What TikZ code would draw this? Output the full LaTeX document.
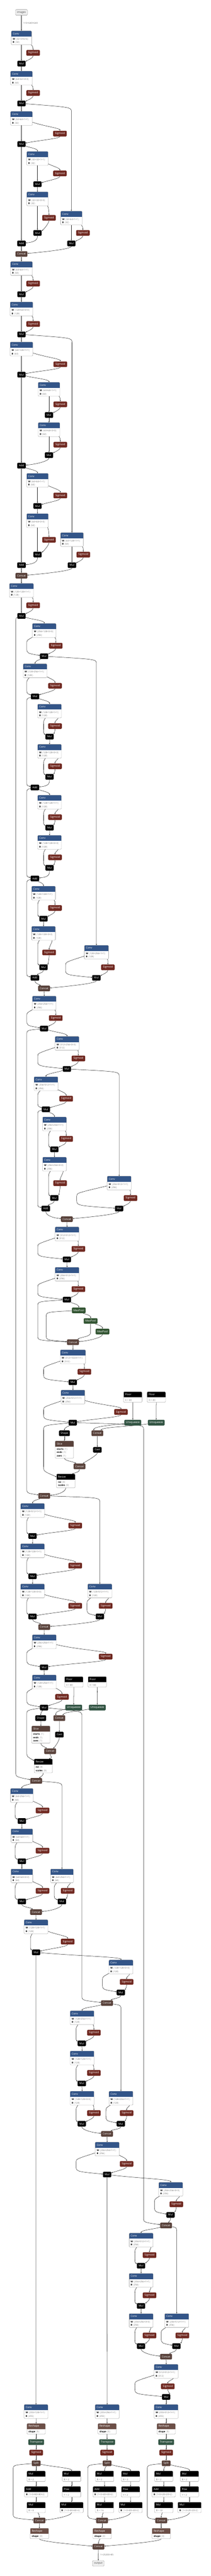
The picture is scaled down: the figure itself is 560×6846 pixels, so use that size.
\documentclass[tikz,border=0pt]{standalone}
\usepackage{fontspec}
\setmainfont{Open Sans}
\usetikzlibrary{arrows.meta,calc}
\pgfdeclarelayer{back}\pgfdeclarelayer{bg}
\pgfsetlayers{back,bg,main}
\definecolor{convblue}{RGB}{51,85,136}
\definecolor{sigred}{RGB}{112,41,33}
\definecolor{tensorc}{RGB}{89,66,59}
\definecolor{shapec}{RGB}{108,79,71}
\definecolor{poolc}{RGB}{51,85,51}
\definecolor{transc}{RGB}{51,85,68}
\definecolor{valgray}{RGB}{110,110,110}
\definecolor{bordc}{RGB}{140,140,140}
\newcommand\hfont{\fontsize{7}{8}\selectfont}
\newcommand\afont{\fontsize{6.1}{7}\selectfont}
\newcommand\val[1]{\textcolor{valgray}{$\langle$#1$\rangle$}}
\newcommand\gv[1]{\textcolor{valgray}{#1}}
\tikzset{
 edg/.style={draw=black!85, line width=0.7pt, -{Stealth[length=3.4pt,width=2.8pt]}},
 opn/.style={rounded corners=2pt, minimum height=15pt, inner sep=0pt, text=white, font=\hfont},
 ionode/.style={rounded corners=2pt, minimum height=15pt, inner sep=0pt, fill=black!7, draw=black!45, line width=0.5pt, text=black!70, font=\hfont},
 lbl/.style={font=\afont, text=valgray, inner sep=0pt},
}
\newcommand\onbg[1]{\begin{pgfonlayer}{bg}#1\end{pgfonlayer}}
\newcommand\Nop[6]{\node[opn, fill=#5, minimum width=#4pt] (#1) at (#2,#3) {#6};}
\newcommand\Nh[8]{%
  \pgfmathsetmacro\hL{#2-#4/2}\pgfmathsetmacro\hR{#2+#4/2}%
  \pgfmathsetmacro\hB{#3+19+9*#7}\pgfmathsetmacro\hH{19+9*#7}\pgfmathsetmacro\hM{#3+(19+9*#7)/2}%
  \begin{scope}
    \clip[rounded corners=2pt] (\hL,#3) rectangle (\hR,\hB);
    \fill[white] (\hL,#3) rectangle (\hR,\hB);
    \fill[#5] (\hL,#3) rectangle (\hR,{#3+15});
  \end{scope}
  \draw[bordc, line width=0.45pt, rounded corners=2pt] (\hL,#3) rectangle (\hR,\hB);
  \node[anchor=west, text=white, font=\hfont, inner sep=0pt] at ({\hL+4},{#3+7.5}) {#6};
  \foreach \rowtxt [count=\ri] in {#8} {\node[anchor=west, font=\afont, inner sep=0pt] at ({\hL+4},{#3+13.5+9*\ri}) {\rowtxt};}
  \node[inner sep=0pt, outer sep=0pt, minimum width=#4pt, minimum height=\hH pt] (#1) at (#2,\hM) {};}
\newcommand\Nconv[6]{%
  \Nh{c#1}{#2}{#3}{#4}{convblue}{Conv}{2}{{\textbf{W} \val{#5}},{\textbf{B} \val{#6}}}%
  \pgfmathsetmacro\tmpR{#2+#4/2}\xdef\cRr{\tmpR}%
  \pgfmathsetmacro\tmpB{#3+37}\xdef\cBb{\tmpB}}
\newcommand\Nsm[6]{%
  \Nop{s#1}{#2}{#3}{36}{sigred}{Sigmoid}%
  \Nop{m#1}{#4}{#5}{22}{black}{Mul}%
  \pgfmathsetmacro\pAx{0.6*\cRr+0.4*#2}%
  \pgfmathsetmacro\pBx{#4+11+0.3*(#2-#4-11)}%
  \begin{pgfonlayer}{bg}
  \draw[edg] (c#1) .. controls (\pAx,{\cBb+2}) and (#2,{#3-14.5}) .. (s#1);
  \draw[edg] (s#1) .. controls (#2,{#3+13.5}) and (\pBx,{#5-9}) .. (m#1);
  \ifdim #6pt=0pt
    \draw[edg] (#4,\cBb) -- (m#1);
  \else
    \draw[edg] (c#1) .. controls (#6,{\cBb+8}) .. (#6,{\cBb+16}) -- (#6,{#5-22}) .. controls (#6,{#5-8}) .. (m#1);
  \fi
  \end{pgfonlayer}}
\newcommand\ED[2]{\onbg{\draw[edg] (#1) .. controls ($(#1)!0.45!(#2.north)$) and ($(#2.north)+(0,-8)$) .. (#2);}}
\newcommand\EB[3]{\onbg{\draw[edg] (#1) .. controls ($(#1.south)+(0,7)$) and ($(#2.north)+({1.8*(#3)},-5)$) .. ($(#2.north)+(#3,0)$);}}
\newcommand\EHR[2]{\onbg{\draw[edg] (#1) .. controls ($(#1.south)+(0,8)$) and ($(#2.east)+(28,-4)$) .. ($(#2.east)+(0,-1.5)$);}}
\newcommand\EHL[2]{\onbg{\draw[edg] (#1) .. controls ($(#1.south)+(0,8)$) and ($(#2.west)+(-28,-4)$) .. ($(#2.west)+(0,-1.5)$);}}
\newcommand\BL[5]{\onbg{\draw[edg] (#1) .. controls (#2,#3) .. (#2,{#3+12}) -- (#2,{#4-12}) .. controls (#2,#4) .. (#5);}}
\newcommand\Ndet[8]{%
  \Nh{rs#1}{#2}{6440.7}{49}{shapec}{Reshape}{1}{{\textbf{shape} \val{5}}}%
  \Nop{tr#1}{#2}{6490}{42}{transc}{Transpose}%
  \Nop{sg#1}{#2}{6518.2}{36}{sigred}{Sigmoid}%
  \Nop{sp#1}{#2}{6546.4}{23.3}{tensorc}{Split}%
  \Nh{ma#1}{#3}{6566.8}{49}{black}{Mul}{1}{{\gv{B = 2}}}%
  \Nh{mb#1}{#4}{6566.8}{49}{black}{Mul}{1}{{\gv{B = 2}}}%
  \Nh{ad#1}{#3}{6608}{62}{black}{Add}{1}{{\textbf{B} \val{#7}}}%
  \Nh{pw#1}{#4}{6608}{49}{black}{Pow}{1}{{\gv{Y = 2}}}%
  \Nh{mc#1}{#3}{6649.5}{49}{black}{Mul}{1}{{\gv{B = #8}}}%
  \Nh{md#1}{#4}{6649.5}{62}{black}{Mul}{1}{{\textbf{B} \val{#7}}}%
  \Nop{kd#1}{#5}{6698.4}{31.4}{tensorc}{Concat}%
  \Nh{re#1}{#5}{6719}{49}{shapec}{Reshape}{1}{{\textbf{shape} \val{3}}}%
  \ED{c#1}{rs#1}\ED{rs#1}{tr#1}\ED{tr#1}{sg#1}\ED{sg#1}{sp#1}%
  \ED{sp#1}{ma#1}\ED{sp#1}{mb#1}\ED{ma#1}{ad#1}\ED{ad#1}{mc#1}%
  \ED{mb#1}{pw#1}\ED{pw#1}{md#1}\ED{mc#1}{kd#1}\EHR{md#1}{kd#1}%
  \BL{sp#1}{#6}{6551}{6692}{kd#1}\ED{kd#1}{re#1}}
\begin{document}
\begin{tikzpicture}[x=1pt,y=-1pt]
\begin{pgfonlayer}{back}\fill[white] (0,0) rectangle (560,6846);\end{pgfonlayer}
\useasboundingbox (0,0) rectangle (560,6846);
\node[ionode, minimum width=32pt] (img) at (57,33) {images};
\node[lbl, anchor=west] at (61.5,61) {1×3×640×640};
% ---- backbone
\Nconv{1}{57}{82}{54}{32×3×6×6}{32}\Nsm{1}{88}{140.5}{57}{169}{0}
\Nconv{2}{57}{189}{58}{64×32×3×3}{64}\Nsm{2}{88}{247}{57}{275}{0}
\Nconv{3}{57}{296}{58}{32×64×1×1}{32}\Nsm{3}{159}{355}{57}{383}{0}
\Nconv{4}{99.5}{402.6}{57}{32×32×1×1}{32}\Nsm{4}{159}{461}{99.5}{489.5}{0}
\Nconv{5}{99.5}{510}{57}{32×32×3×3}{32}\Nsm{5}{130}{579}{99.5}{619}{0}
\Nconv{6}{189.5}{561}{57}{32×64×1×1}{32}\Nsm{6}{220}{619}{189.5}{647}{0}
\Nop{a1}{57}{647}{22.7}{black}{Add}
\Nop{k1}{57}{675}{31.4}{tensorc}{Concat}
\Nconv{7}{57}{695}{58}{64×64×1×1}{64}\Nsm{7}{88}{753.6}{57}{782}{0}
\Nconv{8}{57}{802.5}{60.5}{128×64×3×3}{128}\Nsm{8}{88}{861}{57}{888.7}{0}
\Nconv{9}{57}{909}{60.5}{64×128×1×1}{64}\Nsm{9}{160}{968}{57}{995.7}{0}
\Nconv{10}{130}{1016}{57.5}{64×64×1×1}{64}\Nsm{10}{160}{1074.5}{130}{1103}{0}
\Nconv{11}{130}{1123}{57.5}{64×64×3×3}{64}\Nsm{11}{160}{1181.7}{130}{1209.6}{0}
\Nop{a2}{57}{1237.6}{22.7}{black}{Add}
\Nconv{12}{99.5}{1258}{57.5}{64×64×1×1}{64}\Nsm{12}{160}{1316.8}{99.5}{1344.7}{0}
\Nconv{13}{99.5}{1365}{57.5}{64×64×3×3}{64}\Nsm{13}{130}{1434.6}{99.5}{1473.7}{0}
\Nop{a3}{57}{1502}{22.7}{black}{Add}
\Nconv{14}{191}{1415.5}{60.5}{64×128×1×1}{64}\Nsm{14}{221}{1474}{191}{1502}{0}
\Nop{k2}{57}{1530}{31.4}{tensorc}{Concat}
\Nconv{15}{57}{1550.6}{64}{128×128×1×1}{128}\Nsm{15}{88}{1608.7}{57}{1637}{0}
\Nconv{16}{117.5}{1657}{63}{256×128×3×3}{256}\Nsm{16}{148}{1716}{117}{1744}{71}
\Nconv{17}{93}{1764}{63}{128×256×1×1}{128}\Nsm{17}{146}{1822.6}{93}{1851}{71}
\Nconv{18}{131.5}{1871}{63}{128×128×1×1}{128}\Nsm{18}{146}{1929.7}{131.5}{1957.7}{115.7}
\Nconv{19}{131.5}{1978}{63}{128×128×3×3}{128}\Nsm{19}{146}{2036.5}{131.5}{2064.5}{115.7}
\Nop{a4}{92.5}{2092.8}{22.7}{black}{Add}
\Nconv{20}{131.5}{2113}{63}{128×128×1×1}{128}\Nsm{20}{146}{2171.7}{131.5}{2199.5}{115.7}
\Nconv{21}{131.5}{2219.8}{63}{128×128×3×3}{128}\Nsm{21}{146}{2278.5}{131.5}{2306.3}{115.7}
\Nop{a5}{92.5}{2334.6}{22.7}{black}{Add}
\Nconv{22}{115.5}{2355}{63}{128×128×1×1}{128}\Nsm{22}{146}{2413}{115.5}{2441.4}{100}
\Nconv{23}{115.5}{2461.7}{63}{128×128×3×3}{128}\Nsm{23}{130.4}{2531.3}{115.5}{2570.5}{100}
\Nop{a6}{92.5}{2598.7}{22.7}{black}{Add}
\Nconv{24}{256}{2512}{64}{128×256×1×1}{128}\Nsm{24}{286.4}{2570.8}{255.7}{2598.7}{174}
\Nop{k3}{117}{2627}{31.4}{tensorc}{Concat}
\Nconv{25}{117.5}{2647}{63}{256×256×1×1}{256}\Nsm{25}{148}{2705.5}{117}{2733.4}{71}
\Nconv{26}{178}{2754.3}{63.6}{512×256×3×3}{512}\Nsm{26}{208}{2813}{177.5}{2840.8}{100}
\Nconv{27}{122}{2861.5}{63.3}{256×512×1×1}{256}\Nsm{27}{175.7}{2919.8}{121.8}{2948}{100}
\Nconv{28}{144.7}{2968.3}{63.4}{256×256×1×1}{256}\Nsm{28}{175.7}{3026.7}{144.3}{3054.5}{129}
\Nconv{29}{144.7}{3075.2}{63.4}{256×256×3×3}{256}\Nsm{29}{159.6}{3144.4}{144.3}{3183.5}{129}
\Nop{a7}{121.4}{3211.8}{22.7}{black}{Add}
\Nconv{30}{316.4}{3125.6}{63.6}{256×512×1×1}{256}\Nsm{30}{346.4}{3184}{316}{3211.8}{203.6}
\Nop{k4}{177.5}{3240}{31.4}{tensorc}{Concat}
\Nconv{31}{178}{3260.7}{63.6}{512×512×1×1}{512}\Nsm{31}{208}{3319}{177.5}{3347}{100}
\Nconv{32}{178}{3367.6}{63.6}{256×512×1×1}{256}\Nsm{32}{208}{3426}{177.5}{3454}{100}
\Nop{p1}{209}{3482.4}{36.3}{poolc}{MaxPool}
\Nop{p2}{240.5}{3510.6}{36.3}{poolc}{MaxPool}
\Nop{p3}{272}{3538.8}{36.3}{poolc}{MaxPool}
\Nop{k5}{193.6}{3567}{31.4}{tensorc}{Concat}
\Nconv{33}{193.6}{3587.3}{67}{512×1024×1×1}{512}\Nsm{33}{224}{3645.6}{193.2}{3673.5}{115.7}
% ---- head
\Nconv{34}{193.6}{3694.2}{63.6}{256×512×1×1}{256}\Nsm{34}{321}{3752.5}{193.2}{3780.7}{115.7}
\Nh{f1}{352.5}{3698.7}{49}{black}{Floor}{1}{{\gv{X = 40}}}
\Nh{f2}{415}{3698.7}{49}{black}{Floor}{1}{{\gv{X = 40}}}
\Nop{u1}{352.5}{3780.7}{44.5}{transc}{Unsqueeze}
\Nop{u2}{414.6}{3780.7}{44.5}{transc}{Unsqueeze}
\Nop{sh1}{171}{3809}{28.6}{black}{Shape}
\Nop{kc1}{258.4}{3809}{31.4}{tensorc}{Concat}
\Nh{sl1}{171}{3829.2}{49}{tensorc}{Slice}{3}{{\textbf{starts} \val{1}},{\textbf{ends} \val{1}},{\textbf{axes} \val{1}}}
\Nop{ca1}{258.4}{3853}{22.6}{black}{Cast}
\Nop{kc2}{211}{3897}{31.4}{tensorc}{Concat}
\Nh{r1}{174.6}{3917}{49.3}{black}{Resize}{2}{{\textbf{roi} \val{0}},{\textbf{scales} \val{0}}}
\Nop{k6}{117.4}{3975.3}{31.4}{tensorc}{Concat}
\Nconv{35}{86.4}{3995.6}{63.4}{128×512×1×1}{128}\Nsm{35}{199.6}{4054.3}{86.4}{4082}{71}
\Nconv{36}{86.4}{4102.5}{63.4}{128×128×1×1}{128}\Nsm{36}{199.6}{4160.8}{86.4}{4189}{71}
\Nconv{37}{86.4}{4209.3}{63.4}{128×128×3×3}{128}\Nsm{37}{199.6}{4267.6}{86.4}{4295.9}{71}
\Nconv{38}{265}{4209.3}{64}{128×512×1×1}{128}\Nsm{38}{280.4}{4267.6}{265}{4295.9}{231}
\Nop{k7}{117.4}{4324}{31.4}{tensorc}{Concat}
\Nconv{39}{117.5}{4344.4}{63.6}{256×256×1×1}{256}\Nsm{39}{280.4}{4402.7}{117}{4431}{71}
\Nconv{40}{117.5}{4451.2}{63.6}{128×256×1×1}{128}\Nsm{40}{164.6}{4509.7}{117}{4537.9}{71}
\Nh{f3}{196}{4455.7}{49}{black}{Floor}{1}{{\gv{X = 80}}}
\Nh{f4}{258}{4455.7}{49}{black}{Floor}{1}{{\gv{X = 80}}}
\Nop{u3}{195.7}{4537.9}{44.5}{transc}{Unsqueeze}
\Nop{u4}{258.2}{4537.9}{44.5}{transc}{Unsqueeze}
\Nop{sh2}{108}{4566}{28.6}{black}{Shape}
\Nop{kc3}{157.5}{4566}{31.4}{tensorc}{Concat}
\Nh{sl2}{108.4}{4586.8}{49}{tensorc}{Slice}{3}{{\textbf{starts} \val{1}},{\textbf{ends} \val{1}},{\textbf{axes} \val{1}}}
\Nop{ca2}{157.7}{4610}{22.6}{black}{Cast}
\Nop{kc4}{133}{4654}{31.4}{tensorc}{Concat}
\Nh{r2}{115}{4674.4}{48.6}{black}{Resize}{2}{{\textbf{roi} \val{0}},{\textbf{scales} \val{0}}}
\Nop{k8}{96}{4732.8}{31.4}{tensorc}{Concat}
\Nconv{41}{57.9}{4753}{60}{64×256×1×1}{64}\Nsm{41}{112.9}{4811.4}{57.9}{4839.6}{40}
\Nconv{42}{58}{4860}{57.5}{64×64×1×1}{64}\Nsm{42}{112.9}{4918.2}{58}{4946.5}{40}
\Nconv{43}{58}{4966.8}{57.5}{64×64×3×3}{64}\Nsm{43}{112.9}{5025}{58}{5053.3}{40}
\Nconv{44}{164.5}{4966.8}{60.3}{64×256×1×1}{64}\Nsm{44}{179.6}{5025}{164.3}{5053.3}{144}
\Nop{k9}{95.7}{5081.5}{31.4}{tensorc}{Concat}
\Nconv{45}{95.7}{5101.8}{63.5}{128×128×1×1}{128}\Nsm{45}{179.6}{5160}{95.7}{5188.4}{81}
\Nconv{46}{321}{5208.7}{64}{128×128×3×3}{128}\Nsm{46}{336}{5267}{320.7}{5295.2}{272}
\Nop{k10}{284}{5323.4}{31.4}{tensorc}{Concat}
\Nconv{47}{218}{5343.7}{63.6}{128×256×1×1}{128}\Nsm{47}{249.3}{5402}{217}{5430.3}{202}
\Nconv{48}{218}{5450.6}{63.6}{128×128×1×1}{128}\Nsm{48}{249.3}{5509}{217}{5537}{202}
\Nconv{49}{218}{5557.4}{63.6}{128×128×3×3}{128}\Nsm{49}{249.3}{5615.7}{217}{5644}{202}
\Nconv{50}{321}{5557.4}{63.6}{128×256×1×1}{128}\Nsm{50}{336}{5615.7}{320.7}{5644}{281}
\Nop{k11}{284}{5671}{31.4}{tensorc}{Concat}
\Nconv{51}{284.5}{5692.8}{63.9}{256×256×1×1}{256}\Nsm{51}{336}{5750.8}{284.3}{5779}{202}
\Nconv{52}{453.2}{5799.7}{63.6}{256×256×3×3}{256}\Nsm{52}{467.9}{5858}{452.5}{5886.2}{410}
\Nop{k12}{440.7}{5914.4}{31.4}{tensorc}{Concat}
\Nconv{53}{374.6}{5934.7}{63.5}{256×512×1×1}{256}\Nsm{53}{396.8}{5993}{374.3}{6021.3}{358}
\Nconv{54}{374.6}{6041.6}{63.5}{256×256×1×1}{256}\Nsm{54}{396.8}{6100}{374.3}{6128.1}{358}
\Nconv{55}{374.6}{6148.4}{63.5}{256×256×3×3}{256}\Nsm{55}{396.8}{6206.7}{374.3}{6235}{358}
\Nconv{56}{469}{6148.4}{63.7}{256×512×1×1}{256}\Nsm{56}{484}{6206.7}{468.2}{6235}{428}
\Nop{k13}{440.7}{6263}{31.4}{tensorc}{Concat}
\Nconv{57}{441}{6283.5}{64}{512×512×1×1}{512}\Nsm{57}{445.4}{6342}{441}{6370}{358}
% ---- detect
\Nconv{58}{95.7}{6390.3}{63.5}{255×128×1×1}{255}
\Nconv{59}{284.5}{6390.3}{64}{255×256×1×1}{255}
\Nconv{60}{441}{6390.3}{64}{255×512×1×1}{255}
\Ndet{58}{96}{96}{190}{104.6}{35}{1×3×80×80×2}{8}
\Ndet{59}{284.3}{277.7}{346.6}{271}{233}{1×3×40×40×2}{16}
\Ndet{60}{441}{434.5}{503}{428}{391}{1×3×20×20×2}{32}
\Nop{kf}{261.4}{6768}{31.4}{tensorc}{Concat}
\node[ionode, minimum width=31pt] (out) at (261,6812.4) {output};
\node[lbl, anchor=west] at (266,6789) {1×25200×85};
% ---- edges
\ED{img}{c1}\ED{m1}{c2}\ED{m2}{c3}
\BL{m2}{189.5}{285}{559}{c6}
\ED{m3}{c4}\ED{m4}{c5}\ED{m3}{a1}\EHR{m5}{a1}\ED{a1}{k1}\EHR{m6}{k1}\ED{k1}{c7}
\ED{m7}{c8}\ED{m8}{c9}
\BL{m8}{191}{898}{1413}{c14}
\ED{m9}{c10}\ED{m10}{c11}\ED{m9}{a2}\EHR{m11}{a2}\ED{a2}{c12}\ED{m12}{c13}
\ED{a2}{a3}\EHR{m13}{a3}\ED{a3}{k2}\EHR{m14}{k2}\ED{k2}{c15}
\ED{m15}{c16}
\BL{m15}{42}{1642}{4722}{k8}
\ED{m16}{c17}
\BL{m16}{256}{1752}{2510}{c24}
\ED{m17}{c18}\ED{m18}{c19}
\BL{m17}{71}{1856}{2088}{a4}
\EHR{m19}{a4}\ED{a4}{c20}\ED{m20}{c21}
\BL{a4}{71}{2098}{2330}{a5}
\EHR{m21}{a5}\ED{a5}{c22}\ED{m22}{c23}
\BL{a5}{71}{2340}{2594}{a6}
\EB{m23}{a6}{6}\EB{a6}{k3}{-9}\EHR{m24}{k3}\ED{k3}{c25}\ED{m25}{c26}
\BL{m25}{71}{2738}{3968}{k6}
\ED{m26}{c27}
\BL{m26}{316.4}{2848}{3123}{c30}
\ED{m27}{c28}\ED{m28}{c29}
\BL{m27}{100}{2953}{3207}{a7}
\EB{m29}{a7}{6}\EHL{a7}{k4}\EHR{m30}{k4}\ED{k4}{c31}\ED{m31}{c32}
\ED{m32}{p1}\ED{p1}{p2}\ED{p2}{p3}
\BL{m32}{100}{3459}{3562}{k5}
\BL{p1}{122.5}{3487}{3561}{k5}
\onbg{\draw[edg] (p2) -- (240.5,3542) .. controls (240.5,3553) and (214,3553) .. ($(k5.north east)+(-3,0)$);}
\EHR{p3}{k5}\ED{k5}{c33}\ED{m33}{c34}
\ED{f1}{u1}\ED{f2}{u2}
\onbg{\draw[edg] (u1) .. controls (300,3787) and (246,3791) .. ($(kc1.north)+(-9,0)$);}
\onbg{\draw[edg] (u2) .. controls (340,3792) and (275,3792) .. ($(kc1.north)+(9,0)$);}
\ED{m34}{sh1}\ED{sh1}{sl1}\ED{kc1}{ca1}
\EB{sl1}{kc2}{-9}\EB{ca1}{kc2}{9}
\BL{m34}{115.7}{3788}{3910}{r1}
\EB{kc2}{r1}{17}\EHR{r1}{k6}
\BL{m34}{381}{3786}{5906}{k12}
\ED{k6}{c35}
\BL{k6}{265}{3980}{4207}{c38}
\ED{m35}{c36}\ED{m36}{c37}\EB{m37}{k7}{-9}\EHR{m38}{k7}\ED{k7}{c39}\ED{m39}{c40}
\ED{f3}{u3}\ED{f4}{u4}
\onbg{\draw[edg] (u3) .. controls (160,4545) and (146,4549) .. ($(kc3.north)+(-9,0)$);}
\onbg{\draw[edg] (u4) .. controls (200,4549) and (172,4549) .. ($(kc3.north)+(9,0)$);}
\ED{m40}{sh2}\ED{sh2}{sl2}\ED{kc3}{ca2}
\EB{sl2}{kc4}{-9}\EB{ca2}{kc4}{8}
\BL{m40}{71}{4545}{4668}{r2}
\EB{kc4}{r2}{15}\EB{r2}{k8}{8}
\BL{m40}{217.5}{4548}{5316}{k10}
\ED{k8}{c41}
\BL{k8}{164.5}{4738}{4964}{c44}
\ED{m41}{c42}\ED{m42}{c43}\EB{m43}{k9}{-9}\EHR{m44}{k9}\ED{k9}{c45}
\ED{m45}{c46}\ED{m45}{c58}
\EB{m46}{k10}{10}\ED{k10}{c47}
\BL{k10}{321}{5329}{5555}{c50}
\ED{m47}{c48}\ED{m48}{c49}\EHL{m49}{k11}\EB{m50}{k11}{10}\ED{k11}{c51}
\ED{m51}{c52}\ED{m51}{c59}
\EB{m52}{k12}{6}\ED{k12}{c53}
\BL{k12}{469}{5920}{6146}{c56}
\ED{m53}{c54}\ED{m54}{c55}\EHL{m55}{k13}\EB{m56}{k13}{9}\ED{k13}{c57}\ED{m57}{c60}
\EHL{re58}{kf}\ED{re59}{kf}\EHR{re60}{kf}\ED{kf}{out}
\end{tikzpicture}
\end{document}
